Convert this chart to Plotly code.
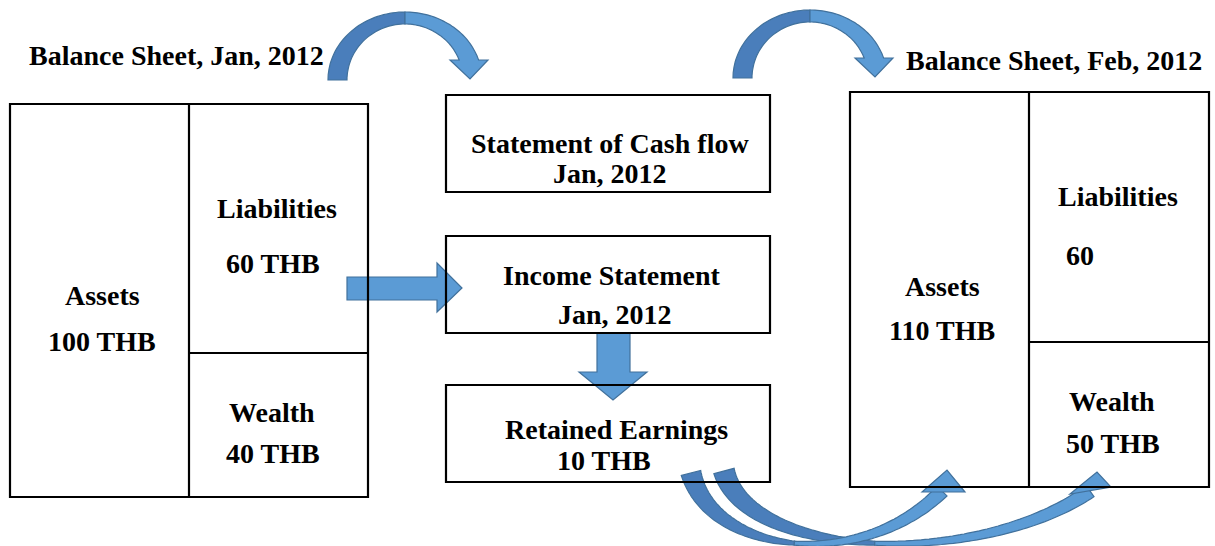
import numpy as np
import plotly.graph_objects as go

# ---------------- data ----------------
jan_title = "Balance Sheet, Jan, 2012"
feb_title = "Balance Sheet, Feb, 2012"
jan_labels = ["Assets", "Liabilities", "Wealth"]
jan_values = [100, 60, 40]
feb_labels = ["Assets", "Liabilities", "Wealth"]
feb_values = [110, 60, 50]
statement_titles = ["Statement of Cash flow", "Income Statement", "Retained Earnings"]
statement_sub = ["Jan, 2012", "Jan, 2012", "10 THB"]
retained_value = 10
unit = "THB"

W, H = 1215, 546
FONT = "Liberation Serif, Times New Roman, serif"
FS = 28
DARK = "#4a7ebb"
LIGHT = "#5b9bd5"
EDGE = "#41719c"

fig = go.Figure()
fig.add_trace(go.Scatter(x=[0, W], y=[0, H], mode="markers",
                         marker=dict(opacity=0), hoverinfo="skip", showlegend=False))

shapes = []
annotations = []


def poly(pts):
    return "M " + " L ".join(f"{x:.1f},{y:.1f}" for x, y in pts) + " Z"


def add_poly(pts, fill):
    shapes.append(dict(type="path", path=poly(pts), fillcolor=fill,
                       line=dict(color=EDGE, width=1.2), xref="x", yref="y"))


def curved_top_arrow(dx, dy):
    cx, cy = 405 + dx, 80 + dy
    rxo, ryo = 77, 68
    rxi, ryi = 58, 56
    t_end_o = np.degrees(np.arcsin(20 / ryo))
    t_end_i = np.degrees(np.arcsin(20 / ryi))
    to = np.radians(np.linspace(180, 90, 40))
    ti = np.radians(np.linspace(90, 180, 40))
    left = [(cx + rxo * np.cos(t), cy - ryo * np.sin(t)) for t in to]
    left += [(cx + rxi * np.cos(t), cy - ryi * np.sin(t)) for t in ti]
    add_poly(left, DARK)
    to = np.radians(np.linspace(90, t_end_o, 40))
    ti = np.radians(np.linspace(t_end_i, 90, 40))
    right = [(cx + rxo * np.cos(t), cy - ryo * np.sin(t)) for t in to]
    right += [(488 + dx, 60 + dy), (470 + dx, 79 + dy), (450 + dx, 60 + dy)]
    right += [(cx + rxi * np.cos(t), cy - ryi * np.sin(t)) for t in ti]
    add_poly(right, LIGHT)


def bezier(P, t):
    P = np.array(P, dtype=float)
    t = t[:, None]
    return ((1 - t) ** 3) * P[0] + 3 * ((1 - t) ** 2) * t * P[1] + 3 * (1 - t) * t ** 2 * P[2] + t ** 3 * P[3]


def bezier_d(P, t):
    P = np.array(P, dtype=float)
    t = t[:, None]
    return 3 * ((1 - t) ** 2) * (P[1] - P[0]) + 6 * (1 - t) * t * (P[2] - P[1]) + 3 * t ** 2 * (P[3] - P[2])


def band(P, widths, head):
    for (a, b), col in (((0.0, 0.5), DARK), ((0.5, 1.0), LIGHT)):
        t = np.linspace(a, b, 60)
        c = bezier(P, t)
        d = bezier_d(P, t)
        d /= np.linalg.norm(d, axis=1)[:, None]
        n = np.stack([-d[:, 1], d[:, 0]], axis=1)
        w = np.interp(t, [0, 0.5, 1], widths)[:, None] / 2
        e1 = c + n * w
        e2 = c - n * w
        pts = [tuple(p) for p in e1] + [tuple(p) for p in e2[::-1]]
        add_poly(pts, col)
    add_poly(head, LIGHT)


# ---------------- arrows (drawn under the boxes) ----------------
curved_top_arrow(0, 0)
curved_top_arrow(405, -2)

add_poly([(347, 277), (437, 277), (437, 263), (462, 288), (437, 312), (437, 300), (347, 300)], LIGHT)
add_poly([(597, 333), (630, 333), (630, 372), (647, 372), (613, 400), (579, 372), (597, 372)], LIGHT)

band([(724, 471), (748, 560), (980, 568), (1090, 491)], [21, 4, 14],
     [(1070, 494), (1097, 472), (1111, 487)])
band([(691, 473), (712, 555), (862, 572), (942, 491)], [20, 4, 14],
     [(922, 492), (947, 470), (965, 492)])


# ---------------- boxes ----------------
def rect(x0, y0, x1, y1):
    shapes.append(dict(type="rect", x0=x0, y0=y0, x1=x1, y1=y1, xref="x", yref="y",
                       line=dict(color="black", width=2.2), fillcolor="rgba(0,0,0,0)"))


def line(x0, y0, x1, y1):
    shapes.append(dict(type="line", x0=x0, y0=y0, x1=x1, y1=y1, xref="x", yref="y",
                       line=dict(color="black", width=2.2)))


rect(10, 104, 368, 497)
line(189, 104, 189, 497)
line(189, 353, 368, 353)

rect(446, 95, 770, 192)
rect(446, 236, 770, 333)
rect(446, 385, 770, 482)

rect(850, 92, 1209, 487)
line(1029, 92, 1029, 487)
line(1029, 342, 1209, 342)


def text(x, y, s):
    annotations.append(dict(x=x, y=y, xref="x", yref="y", text=f"<b>{s}</b>",
                            showarrow=False, xanchor="center", yanchor="middle",
                            font=dict(family=FONT, size=FS, color="black")))


text(176, 55, jan_title)
text(1054, 60, feb_title)

text(102, 295, jan_labels[0])
text(102, 341, f"{jan_values[0]} {unit}")
text(277, 208, jan_labels[1])
text(273, 263, f"{jan_values[1]} {unit}")
text(272, 412, jan_labels[2])
text(273, 453, f"{jan_values[2]} {unit}")

text(610, 143, statement_titles[0])
text(610, 173, statement_sub[0])
text(612, 275, statement_titles[1])
text(615, 314, statement_sub[1])
text(616, 429, statement_titles[2])
text(604, 460, f"{retained_value} {unit}")

text(942, 286, feb_labels[0])
text(942, 330, f"{feb_values[0]} {unit}")
text(1118, 196, feb_labels[1])
text(1080, 255, f"{feb_values[1]}")
text(1112, 401, feb_labels[2])
text(1113, 443, f"{feb_values[2]} {unit}")

fig.update_layout(
    width=W, height=H,
    margin=dict(l=0, r=0, t=0, b=0),
    paper_bgcolor="white", plot_bgcolor="white",
    xaxis=dict(range=[0, W], visible=False, fixedrange=True),
    yaxis=dict(range=[H, 0], visible=False, fixedrange=True),
    shapes=shapes, annotations=annotations, showlegend=False,
)
fig.write_html("out.html", config={"displayModeBar": False},
               post_script="document.body.style.margin='0';document.body.style.overflow='hidden';")
